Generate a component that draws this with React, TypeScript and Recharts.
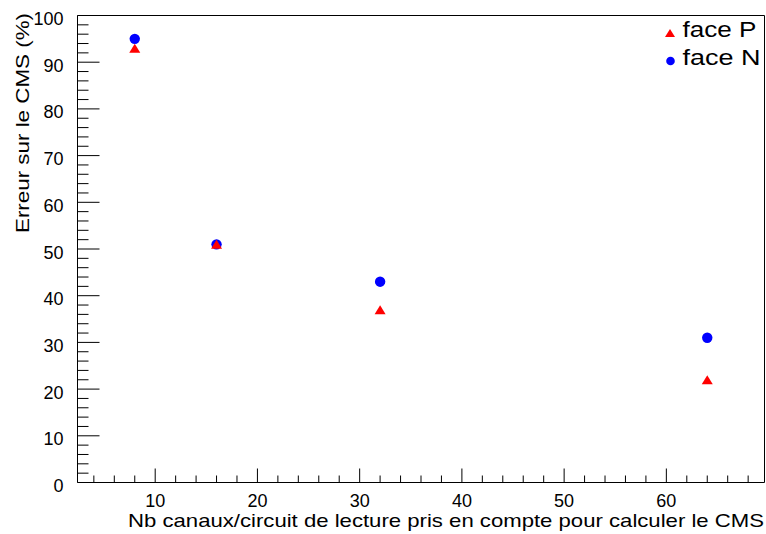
import { ScatterChart, Scatter, XAxis, YAxis, ReferenceArea, Legend } from 'recharts';

// ── Data ──────────────────────────────────────────────────────────────────────

const CHANNELS = [8, 16, 32, 64];
const FACE_P = [93, 51, 37, 22];
const FACE_N = [95, 51, 43, 31];

const X_DOMAIN: [number, number] = [2.4, 69.6];
const Y_DOMAIN: [number, number] = [0, 100];
// every 2 units; labelled ones are the multiples of 10
const X_TICKS = Array.from({ length: 33 }, (_, i) => 4 + 2 * i);
const Y_TICKS = Array.from({ length: 51 }, (_, i) => 2 * i);

const X_TITLE = 'Nb canaux/circuit de lecture pris en compte pour calculer le CMS';
const Y_TITLE = 'Erreur sur le CMS (%)';
const LEGEND_P = 'face P';
const LEGEND_N = 'face N';

const dataP = CHANNELS.map((x, i) => ({ x, y: FACE_P[i] }));
const dataN = CHANNELS.map((x, i) => ({ x, y: FACE_N[i] }));

// ── Style ─────────────────────────────────────────────────────────────────────

const FONT = '"Liberation Sans", Arial, Helvetica, sans-serif';
const RED = '#ff0000';
const BLUE = '#0000ff';

// ── Ticks (ROOT style: drawn inside the frame) ───────────────────────────────

const YTick = (props: any) => {
  const { x, y, payload } = props;
  const v = payload.value;
  const major = v % 10 === 0;
  return (
    <g>
      <line x1={x} x2={x + (major ? 22 : 11)} y1={y} y2={y} stroke="#000" />
      {major && (
        <text x={x - 14} y={y + 9.5} textAnchor="end" fontSize={18} fontFamily={FONT} fill="#000">
          {v}
        </text>
      )}
    </g>
  );
};

const XTick = (props: any) => {
  const { x, y, payload } = props;
  const v = payload.value;
  const major = v % 10 === 0;
  return (
    <g>
      <line x1={x} x2={x} y1={y} y2={y - (major ? 14 : 7)} stroke="#000" />
      {major && (
        <text x={x} y={y + 24.5} textAnchor="middle" fontSize={18} fontFamily={FONT} fill="#000">
          {v}
        </text>
      )}
    </g>
  );
};

// ── Markers ───────────────────────────────────────────────────────────────────

const Dot = (props: any) => <circle cx={props.cx} cy={props.cy} r={5.2} fill={BLUE} />;

const Tri = (props: any) => {
  const { cx, cy } = props;
  return <polygon points={`${cx - 5.5},${cy + 4.5} ${cx + 5.5},${cy + 4.5} ${cx},${cy - 4.5}`} fill={RED} />;
};

const LegendBox = () => (
  <svg width={106} height={54} style={{ display: 'block' }}>
    <polygon points="5,19 15,19 10,11" fill={RED} />
    <text x={22.5} y={19} fontSize={21.5} fontFamily={FONT} fill="#000" textLength={74} lengthAdjust="spacingAndGlyphs">
      {LEGEND_P}
    </text>
    <circle cx={10.5} cy={43} r={4.3} fill={BLUE} />
    <text x={22.5} y={46.5} fontSize={21.5} fontFamily={FONT} fill="#000" textLength={78} lengthAdjust="spacingAndGlyphs">
      {LEGEND_N}
    </text>
  </svg>
);

// ── Component ─────────────────────────────────────────────────────────────────

export default function App() {
  return (
    <div style={{ position: 'absolute', left: 0, top: 0, width: 766, height: 534, background: '#fff' }}>
      <ScatterChart width={766} height={534} margin={{ top: 15.5, right: 1.5, bottom: 0, left: 0.5 }}>
        <XAxis
          type="number"
          dataKey="x"
          domain={X_DOMAIN}
          ticks={X_TICKS}
          interval={0}
          allowDataOverflow
          height={51.5}
          axisLine={false}
          tickLine={false}
          tickSize={0}
          tickMargin={0}
          tick={<XTick />}
          label={{
            content: () => (
              <text x={764} y={526.5} textAnchor="end" fontSize={18.5} fontFamily={FONT} fill="#000"
                textLength={636} lengthAdjust="spacingAndGlyphs">
                {X_TITLE}
              </text>
            ),
          }}
        />
        <YAxis
          type="number"
          dataKey="y"
          domain={Y_DOMAIN}
          ticks={Y_TICKS}
          interval={0}
          allowDataOverflow
          width={77}
          axisLine={false}
          tickLine={false}
          tickSize={0}
          tickMargin={0}
          tick={<YTick />}
          label={{
            content: () => (
              <text transform="translate(28.5,13) rotate(-90)" textAnchor="end" fontSize={18.5} fontFamily={FONT}
                fill="#000" textLength={220} lengthAdjust="spacingAndGlyphs">
                {Y_TITLE}
              </text>
            ),
          }}
        />
        <ReferenceArea x1={X_DOMAIN[0]} x2={X_DOMAIN[1]} y1={Y_DOMAIN[0]} y2={Y_DOMAIN[1]} fill="none" stroke="#000" strokeWidth={1} />
        <Scatter name={LEGEND_N} data={dataN} shape={<Dot />} fill={BLUE} isAnimationActive={false} />
        <Scatter name={LEGEND_P} data={dataP} shape={<Tri />} fill={RED} isAnimationActive={false} />
        <Legend layout="vertical" align="center" verticalAlign="middle"
          wrapperStyle={{ left: 660, top: 18, width: 106, height: 54 }} content={() => <LegendBox />} />
      </ScatterChart>
    </div>
  );
}
